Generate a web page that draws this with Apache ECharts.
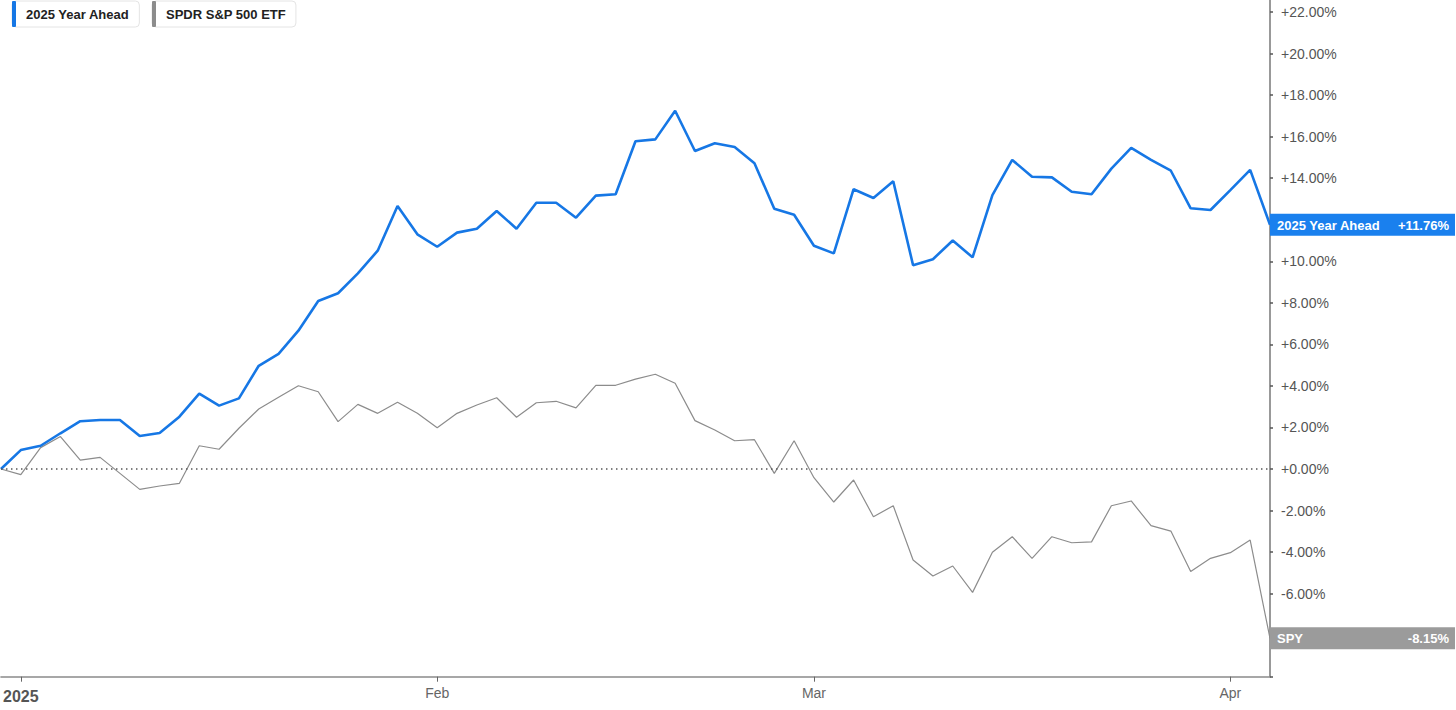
<!DOCTYPE html>
<html>
<head>
<meta charset="utf-8">
<script src="https://cdn.jsdelivr.net/npm/echarts@6/dist/echarts.min.js"></script>
<style>
html,body{margin:0;padding:0;background:#fff;}
#chart{width:1456px;height:710px;}
</style>
</head>
<body>
<div id="chart"></div>
<script>
// Trading days, Dec 31 2024 .. Apr 3 2025
const dates = [
  'Dec 31',
  'Jan 2','Jan 3','Jan 6','Jan 7','Jan 8','Jan 9','Jan 10','Jan 13','Jan 14','Jan 15','Jan 16','Jan 17',
  'Jan 21','Jan 22','Jan 23','Jan 24','Jan 27','Jan 28','Jan 29','Jan 30','Jan 31',
  'Feb 3','Feb 4','Feb 5','Feb 6','Feb 7','Feb 10','Feb 11','Feb 12','Feb 13','Feb 14',
  'Feb 18','Feb 19','Feb 20','Feb 21','Feb 24','Feb 25','Feb 26','Feb 27','Feb 28',
  'Mar 3','Mar 4','Mar 5','Mar 6','Mar 7','Mar 10','Mar 11','Mar 12','Mar 13','Mar 14',
  'Mar 17','Mar 18','Mar 19','Mar 20','Mar 21','Mar 24','Mar 25','Mar 26','Mar 27','Mar 28','Mar 31',
  'Apr 1','Apr 2','Apr 3'
];
const yearAhead = [
  0, 0.91, 1.12, 1.72, 2.30, 2.36, 2.36, 1.59, 1.73, 2.52, 3.63, 3.05, 3.40,
  4.97, 5.54, 6.66, 8.09, 8.46, 9.42, 10.51, 12.66, 11.30,
  10.70, 11.38, 11.57, 12.42, 11.57, 12.82, 12.82, 12.10, 13.16, 13.23,
  15.78, 15.87, 17.25, 15.31, 15.68, 15.50, 14.72, 12.53, 12.24,
  10.75, 10.38, 13.47, 13.05, 13.85, 9.81, 10.10, 11.00, 10.19, 13.19,
  14.88, 14.07, 14.04, 13.35, 13.23, 14.46, 15.46, 14.88, 14.36, 12.55, 12.47,
  13.43, 14.40, 11.76
];
const spy = [
  0, -0.27, 1.03, 1.56, 0.43, 0.56, -0.21, -0.98, -0.82, -0.69, 1.12, 0.95, 1.96,
  2.89, 3.45, 4.01, 3.72, 2.28, 3.11, 2.68, 3.21, 2.68,
  1.99, 2.68, 3.08, 3.43, 2.49, 3.19, 3.26, 2.94, 4.03, 4.03,
  4.33, 4.56, 4.13, 2.33, 1.88, 1.36, 1.41, -0.21, 1.36,
  -0.42, -1.59, -0.53, -2.30, -1.77, -4.38, -5.15, -4.67, -5.94, -4.01,
  -3.26, -4.30, -3.26, -3.55, -3.51, -1.77, -1.54, -2.73, -2.99, -4.93, -4.30,
  -4.03, -3.42, -8.15
];
const seriesNames = ['2025 Year Ahead', 'SPDR S&P 500 ETF'];
const endNames = ['2025 Year Ahead', 'SPY'];
const monthTicks = {'Jan 2': '2025', 'Feb 3': 'Feb', 'Mar 3': 'Mar', 'Apr 1': 'Apr'};
const yMin = -10, yMax = 22.58, yStep = 2;
// tick values hidden behind the end-of-line value tags (as in the reference)
const hiddenTicks = [12, -8, -10];

const BLUE = '#1677e5', BLUE_LBL = '#1a80ee', GREY = '#8c8c8c', GREY_LBL = '#9b9b9b';
const FONT = '"Liberation Sans", Arial, Helvetica, sans-serif';

function fmtPct(v) {
  return (v >= 0 ? '+' : '') + v.toFixed(2) + '%';
}
function isTick(i) { return monthTicks[dates[i]] !== undefined; }

function legendFor(idx, left) {
  return {
    data: [seriesNames[idx]],
    left: left, top: 1,
    orient: 'horizontal',
    backgroundColor: '#fff',
    borderColor: '#e4e4e4', borderWidth: 1, borderRadius: 4,
    padding: [0, 10, 0, 0],
    icon: 'roundRect',
    itemWidth: 4, itemHeight: 26,
    selectedMode: false,
    textStyle: {fontFamily: FONT, fontWeight: 'bold', fontSize: 13, color: '#222', padding: [0, 0, 0, 5]}
  };
}

function endLabel(idx, bg) {
  return {
    show: true,
    distance: 0,
    backgroundColor: bg,
    padding: [5, 6, 4, 7],
    formatter: p => '{n|' + endNames[idx] + '}{v|' + fmtPct(p.value) + '}',
    rich: {
      n: {width: 105, align: 'left', fontFamily: FONT, fontWeight: 'bold', fontSize: 13, color: '#fff'},
      v: {width: 67, align: 'right', fontFamily: FONT, fontWeight: 'bold', fontSize: 13, color: '#fff'}
    }
  };
}

const chart = echarts.init(document.getElementById('chart'), null, {renderer: 'svg'});
chart.setOption({
  animation: false,
  backgroundColor: '#fff',
  color: [BLUE, GREY],
  legend: [legendFor(0, 12), legendFor(1, 152)],
  grid: {left: 0, right: 186, top: 0, height: 676.7, containLabel: false},
  xAxis: {
    type: 'category',
    data: dates,
    boundaryGap: false,
    axisLine: {show: true, onZero: false, lineStyle: {color: '#8a8a8a', width: 1.5}},
    axisTick: {show: true, length: 5, interval: i => isTick(i), lineStyle: {color: '#666', width: 1}},
    axisLabel: {
      interval: i => isTick(i),
      margin: 9,
      formatter: v => {
        const t = monthTicks[v];
        if (!t) return '';
        return t === '2025' ? '{y|' + t + '}' : '{m|' + t + '}';
      },
      rich: {
        y: {fontFamily: FONT, fontWeight: 'bold', fontSize: 16, color: '#555', padding: [3, 0, 0, 0]},
        m: {fontFamily: FONT, fontSize: 14, color: '#666'}
      }
    },
    splitLine: {show: false}
  },
  yAxis: {
    type: 'value',
    position: 'right',
    min: yMin, max: yMax, interval: yStep,
    axisLine: {show: true, lineStyle: {color: '#777', width: 1.5}},
    axisTick: {show: true, length: 3, lineStyle: {color: '#555', width: 1.5}},
    axisLabel: {
      margin: 11,
      fontFamily: FONT, fontSize: 14, color: '#555',
      formatter: v => (hiddenTicks.some(h => Math.abs(h - v) < 1e-6) ? '' : fmtPct(v))
    },
    splitLine: {show: false}
  },
  series: [
    {
      name: seriesNames[1],
      type: 'line',
      data: spy,
      showSymbol: false,
      lineStyle: {color: GREY, width: 1.2},
      itemStyle: {color: GREY},
      endLabel: endLabel(1, GREY_LBL),
      markLine: {
        silent: true,
        symbol: ['none', 'none'],
        label: {show: false},
        lineStyle: {color: '#555', width: 1.5, type: [1.5, 3.5]},
        data: [{yAxis: 0}]
      },
      z: 2
    },
    {
      name: seriesNames[0],
      type: 'line',
      data: yearAhead,
      showSymbol: false,
      lineStyle: {color: BLUE, width: 2.6},
      itemStyle: {color: BLUE},
      endLabel: endLabel(0, BLUE_LBL),
      z: 3
    }
  ]
});
</script>
</body>
</html>
